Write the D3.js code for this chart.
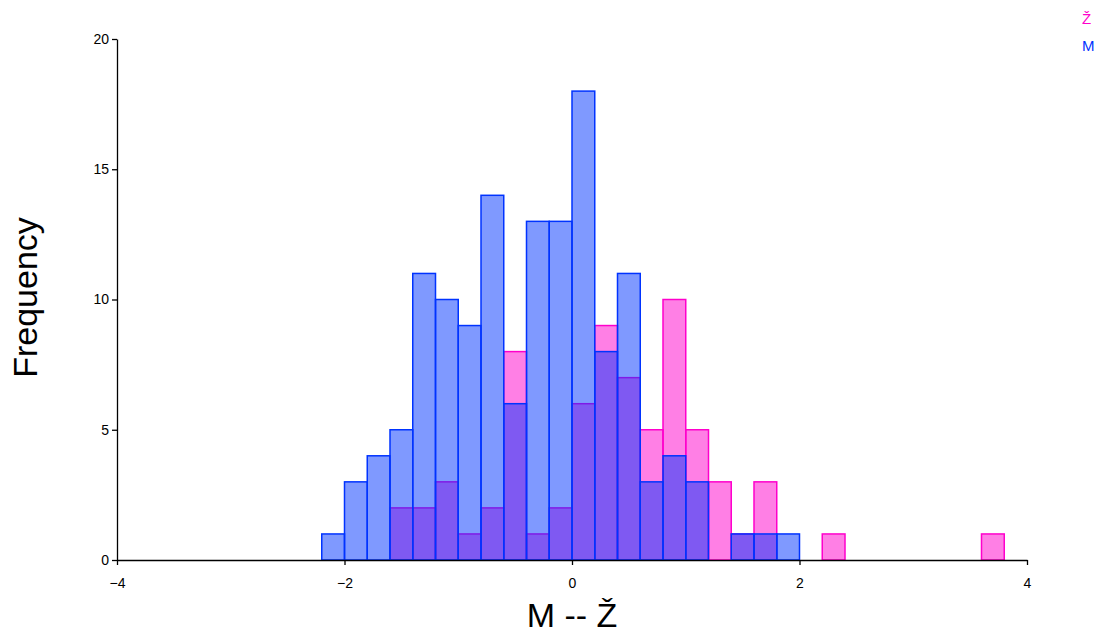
<!DOCTYPE html>
<html>
<head>
<meta charset="utf-8">
<script src="https://cdn.jsdelivr.net/npm/d3@7"></script>
<style>
  html, body { margin: 0; padding: 0; background: #fff; }
  svg { display: block; }
  text { font-family: "Liberation Sans", Arial, sans-serif; }
</style>
</head>
<body>
<svg id="chart" width="1098" height="634"></svg>
<script>
// Bin starts (bin width 0.2)
const binStarts = [-2.2, -2.0, -1.8, -1.6, -1.4, -1.2, -1.0, -0.8, -0.6, -0.4,
                   -0.2, 0.0, 0.2, 0.4, 0.6, 0.8, 1.0, 1.2, 1.4, 1.6,
                   1.8, 2.0, 2.2, 2.4, 2.6, 2.8, 3.0, 3.2, 3.4, 3.6];
const binWidth = 0.2;
const countsM = [1, 3, 4, 5, 11, 10, 9, 14, 6, 13,
                 13, 18, 8, 11, 3, 4, 3, 0, 1, 1,
                 1, 0, 0, 0, 0, 0, 0, 0, 0, 0];
const countsZ = [0, 0, 0, 2, 2, 3, 1, 2, 8, 1,
                 2, 6, 9, 7, 5, 10, 5, 3, 1, 3,
                 0, 0, 1, 0, 0, 0, 0, 0, 0, 1];
const xTicks = [-4, -2, 0, 2, 4];
const yTicks = [0, 5, 10, 15, 20];
const seriesNames = ["Ž", "M"];
const xTitle = "M -- Ž";
const yTitle = "Frequency";

const svg = d3.select("#chart");
const x = d3.scaleLinear().domain([-4, 4]).range([117, 1027]);
const y = d3.scaleLinear().domain([0, 20]).range([560, 39]);

const series = [
  { name: seriesNames[0], counts: countsZ, color: "rgb(255,0,204)" },
  { name: seriesNames[1], counts: countsM, color: "rgb(0,51,255)" }
];

series.forEach(s => {
  const data = binStarts.map((b, i) => ({ x0: b, x1: b + binWidth, c: s.counts[i] }))
                        .filter(d => d.c > 0);
  svg.append("g").selectAll("rect").data(data).join("rect")
    .attr("x", d => x(d.x0))
    .attr("width", d => x(d.x1) - x(d.x0))
    .attr("y", d => y(d.c))
    .attr("height", d => y(0) - y(d.c))
    .attr("fill", s.color)
    .attr("fill-opacity", 0.5)
    .attr("stroke", s.color)
    .attr("stroke-width", 1.5);
});

// Axes
const xAxis = svg.append("g")
  .attr("transform", `translate(0,${y(0)})`)
  .call(d3.axisBottom(x).tickValues(xTicks).tickSize(5).tickSizeOuter(0).tickFormat(d3.format("d")));
const yAxis = svg.append("g")
  .attr("transform", `translate(${x(-4)},0)`)
  .call(d3.axisLeft(y).tickValues(yTicks).tickSize(5).tickSizeOuter(0).tickFormat(d3.format("d")));
[xAxis, yAxis].forEach(g => {
  g.selectAll("path.domain").attr("stroke", "#000").attr("stroke-width", 1.3);
  g.selectAll(".tick line").attr("stroke", "#000").attr("stroke-width", 1.3);
  g.selectAll(".tick text").attr("fill", "#000")
    .style("font-family", "'Liberation Sans', Arial, sans-serif")
    .style("font-size", "14px");
});
xAxis.selectAll(".tick text").attr("dy", "1.45em");

// Titles
svg.append("text")
  .attr("x", x(0)).attr("y", 627)
  .attr("text-anchor", "middle")
  .style("font-size", "34px")
  .text(xTitle);
svg.append("text")
  .attr("transform", `translate(37,${y(10) - 2}) rotate(-90)`)
  .attr("text-anchor", "middle")
  .style("font-size", "34px")
  .text(yTitle);

// Legend
svg.append("g").selectAll("text").data(series).join("text")
  .attr("x", 1082)
  .attr("y", (d, i) => 24 + i * 27)
  .style("font-size", "15px")
  .attr("fill", d => d.color)
  .text(d => d.name);
</script>
</body>
</html>
